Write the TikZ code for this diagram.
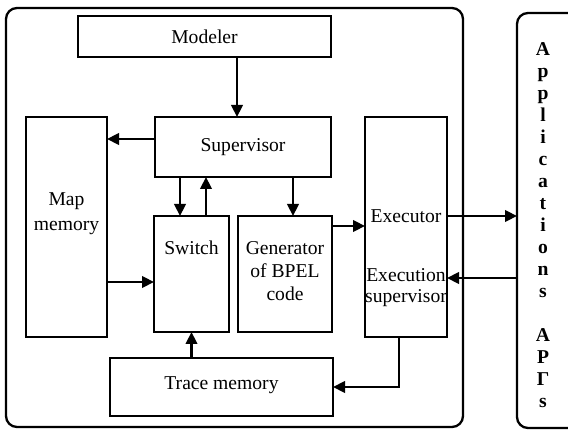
\documentclass[tikz,border=0pt]{standalone}
\usepackage{fontspec}
\setmainfont{Liberation Serif}
\usetikzlibrary{arrows.meta}
\begin{document}
\begin{tikzpicture}[x=1pt,y=-1pt,
  line width=2.3pt,
  box/.style={draw,rectangle,inner sep=0pt,outer sep=0pt},
  lbl/.style={inner sep=0pt,align=center,font=\fontsize{19.6}{23}\selectfont},
  arr/.style={-{Triangle[length=12pt,width=11.5pt]},line width=2.3pt}]
\useasboundingbox (0,0) rectangle (568,430);

% outer frame of the system
\node[box,rounded corners=11pt,minimum width=457pt,minimum height=419pt] (sys) at (234.5,217.5) {};
% applications frame, running off the right side
\node[box,rounded corners=11pt,minimum width=83pt,minimum height=415pt] (apps) at (558.5,220.5) {};

% blocks
\node[box,minimum width=253pt,minimum height=41pt]  (mod) at (204.5,36.5) {};
\node[box,minimum width=176pt,minimum height=60pt]  (sup) at (243,147) {};
\node[box,minimum width=81pt,minimum height=220pt]  (map) at (66.5,227) {};
\node[box,minimum width=75pt,minimum height=116pt]  (sw)  at (191.5,274) {};
\node[box,minimum width=94pt,minimum height=116pt]  (gen) at (285,274) {};
\node[box,minimum width=82pt,minimum height=220pt]  (exe) at (406,227) {};
\node[box,minimum width=223pt,minimum height=58pt]  (tr)  at (221.5,387) {};

% labels
\node[lbl] (tmod) at (204.5,36.5) {Modeler};
\node[lbl] (tsup) at (243,147) {Supervisor};
\node[lbl,font=\fontsize{19.6}{25}\selectfont] (tmap) at (66.5,214) {Map\\memory};
\node[lbl] (tsw)  at (191.5,248) {Switch};
\node[lbl] (tgen) at (285,271) {Generator\\of BPEL\\code};
\node[lbl] (texe) at (406,216) {Executor};
\node[lbl,font=\fontsize{19.6}{21}\selectfont] (tes) at (406,288) {Execution\\supervisor};
\node[lbl] (ttr)  at (221.5,385) {Trace memory};
\node[lbl,font=\fontsize{19.6}{22}\bfseries\selectfont] (tapps) at (543,225)
  {A\\p\\p\\l\\i\\c\\a\\t\\i\\o\\n\\s\\[22pt]A\\P\\Γ\\s};

% helper positions for connectors
\coordinate (xa) at (237,0);
\coordinate (xb) at (180,0);
\coordinate (xc) at (206,0);
\coordinate (xd) at (293,0);
\coordinate (xe) at (399,0);
\coordinate (ya) at (0,139);
\coordinate (yb) at (0,282);
\coordinate (yc) at (0,226);
\coordinate (yd) at (0,216);
\coordinate (ye) at (0,278);

% connectors
\draw[arr] (mod.south -| xa) -- (sup.north -| xa);
\draw[arr] (sup.west |- ya) -- (map.east |- ya);
\draw[arr] (sup.south -| xb) -- (sw.north -| xb);
\draw[arr] (sw.north -| xc) -- (sup.south -| xc);
\draw[arr] (sup.south -| xd) -- (gen.north -| xd);
\draw[arr] (map.east |- yb) -- (sw.west |- yb);
\draw[arr] (tr.north -| sw.south) -- (sw.south);
\draw[arr] (gen.east |- yc) -- (exe.west |- yc);
\draw[arr] (exe.east |- yd) -- (apps.west |- yd);
\draw[arr] (apps.west |- ye) -- (exe.east |- ye);
\draw[arr] (exe.south -| xe) |- (tr.east);
\end{tikzpicture}
\end{document}
